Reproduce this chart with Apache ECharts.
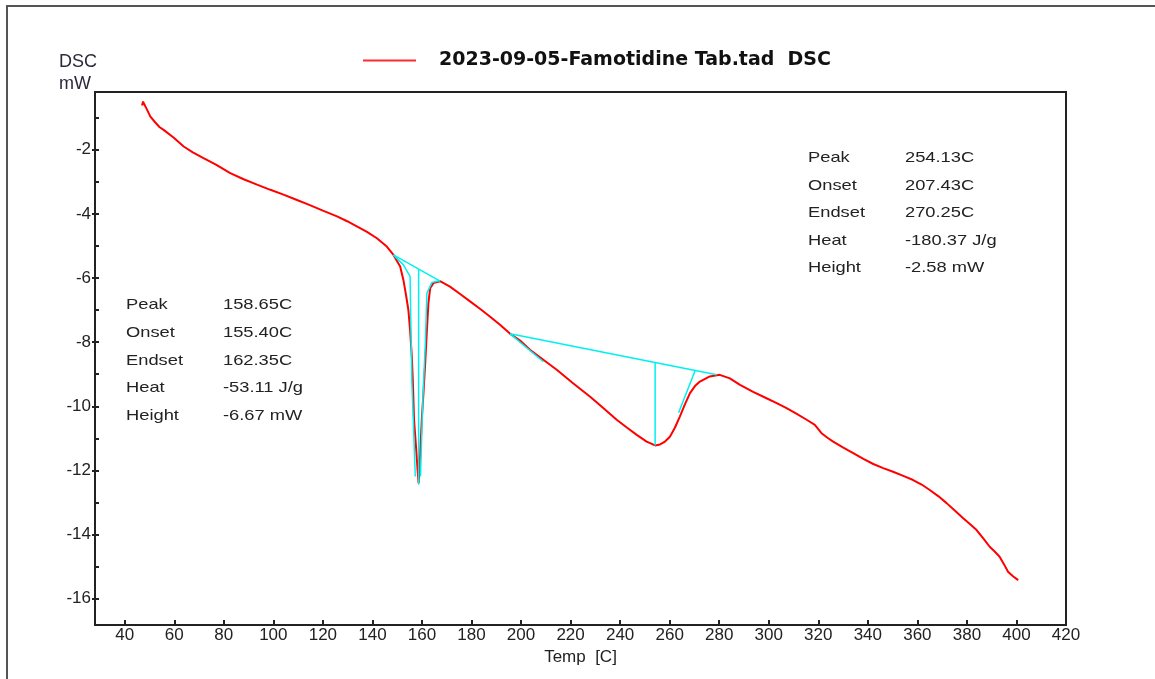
<!DOCTYPE html>
<html>
<head>
<meta charset="utf-8">
<title>DSC – Famotidine Tab.</title>
<script src="https://cdn.jsdelivr.net/npm/echarts@6/dist/echarts.min.js"></script>
<style>
  html, body { margin: 0; padding: 0; background: #fff; }
  #chart { width: 1155px; height: 679px; }
</style>
</head>
<body>
<div id="chart"></div>
<script>
// DSC heat-flow trace: temperature (°C) and signal (mW)
const tempC = [
  47.0, 47.4, 48.0, 49.0, 50.3, 52.0, 54.0, 55.7, 59.7, 63.8,
  67.5, 71.8, 77.0, 82.6, 88.0, 93.4, 98.8, 104.1, 109.3, 114.5,
  120.0, 125.7, 129.8, 133.7, 137.8, 141.8, 145.8, 148.5, 151.2, 152.5,
  153.6, 154.5, 155.2, 155.9, 156.3, 156.8, 157.6, 158.2, 158.65, 159.0,
  159.4, 160.0, 160.6, 161.3, 162.0, 162.6, 163.3, 164.6, 167.3, 171.3,
  175.4, 179.4, 183.4, 187.4, 191.5, 195.6, 199.6, 203.6, 209.0, 214.4,
  221.0, 227.9, 233.3, 238.6, 242.7, 246.7, 250.7, 254.13, 256.1, 258.1,
  260.1, 262.1, 264.1, 266.1, 268.2, 270.2, 272.2, 276.2, 280.2, 284.3,
  288.4, 293.7, 299.1, 303.2, 307.2, 311.3, 315.3, 318.6, 321.3, 323.7,
  326.0, 330.1, 334.1, 338.2, 342.2, 346.2, 350.2, 354.3, 358.3, 361.7,
  365.0, 368.4, 371.8, 375.2, 378.5, 381.2, 383.9, 386.6, 389.2, 391.2,
  393.2, 395.0, 396.6, 398.6, 400.7
];
const dscMW = [
  -0.62, -0.50, -0.60, -0.75, -0.96, -1.12, -1.29, -1.38, -1.62, -1.90,
  -2.08, -2.26, -2.47, -2.73, -2.92, -3.09, -3.25, -3.40, -3.56, -3.72,
  -3.90, -4.08, -4.23, -4.39, -4.56, -4.76, -5.02, -5.28, -5.64, -6.06,
  -6.55, -6.99, -7.62, -8.45, -9.18, -10.42, -11.26, -11.95, -12.40, -11.95,
  -11.26, -10.32, -9.59, -8.66, -7.62, -6.78, -6.32, -6.16, -6.10, -6.27,
  -6.50, -6.73, -6.96, -7.20, -7.46, -7.74, -7.95, -8.24, -8.55, -8.86,
  -9.28, -9.70, -10.06, -10.42, -10.66, -10.89, -11.10, -11.22, -11.19, -11.10,
  -10.95, -10.67, -10.32, -9.95, -9.59, -9.37, -9.23, -9.07, -9.02, -9.13,
  -9.33, -9.55, -9.75, -9.90, -10.06, -10.24, -10.42, -10.58, -10.84, -10.98,
  -11.10, -11.29, -11.46, -11.64, -11.80, -11.93, -12.04, -12.17, -12.30, -12.44,
  -12.61, -12.80, -13.02, -13.26, -13.49, -13.67, -13.86, -14.12, -14.38, -14.53,
  -14.69, -14.93, -15.16, -15.30, -15.42
];

// Peak integration construction lines ([°C, mW] pairs)
const peak1Baseline = [[148.5, -5.28], [167.3, -6.10]];
const peak1LeftEdge = [[148.5, -5.28], [152.5, -5.59], [155.2, -5.95], [155.9, -9.18], [157.3, -12.19]];
const peak1RightEdge = [[159.4, -12.19], [160.4, -9.70], [161.3, -8.14], [162.0, -6.47], [164.0, -6.14], [167.3, -6.08]];
const peak1Drop = [[158.65, -5.73], [158.65, -12.45]];
const peak2Baseline = [[195.6, -7.74], [279.0, -9.02]];
const peak2OnsetTangent = [[195.6, -7.74], [209.0, -8.61]];
const peak2EndsetTangent = [[263.6, -10.20], [270.25, -8.89]];
const peak2Drop = [[254.13, -8.64], [254.13, -11.22]];

// Peak evaluation tables
const peak1Labels = ['Peak', 'Onset', 'Endset', 'Heat', 'Height'];
const peak1Values = ['158.65C', '155.40C', '162.35C', '-53.11 J/g', '-6.67 mW'];
const peak2Labels = ['Peak', 'Onset', 'Endset', 'Heat', 'Height'];
const peak2Values = ['254.13C', '207.43C', '270.25C', '-180.37 J/g', '-2.58 mW'];

// Axis ticks
const xTicks = [40, 60, 80, 100, 120, 140, 160, 180, 200, 220, 240, 260, 280, 300, 320, 340, 360, 380, 400, 420];
const yTicksMajor = [-2, -4, -6, -8, -10, -12, -14, -16];
const yTicksAll = [-1, -2, -3, -4, -5, -6, -7, -8, -9, -10, -11, -12, -13, -14, -15, -16];

const seriesName = '2023-09-05-Famotidine Tab.tad  DSC';
const curve = tempC.map((t, i) => [t, dscMW[i]]);

const FONT = '"Liberation Sans", Arial, sans-serif';
const TEXT = '#222';
const CYAN = '#00f0f0';

const chart = echarts.init(document.getElementById('chart'), null, { renderer: 'canvas' });

function cyanLine(data) {
  return {
    type: 'line', data: data, symbol: 'none', silent: true, z: 4,
    lineStyle: { color: CYAN, width: 1.5 }, animation: false
  };
}

function tableText(labels, values, left, valueLeft, top, step) {
  const els = [];
  labels.forEach((lab, i) => {
    els.push({ type: 'text', x: left, y: top + i * step, scaleX: 1.22,
      style: { text: lab, x: 0, y: 0, font: '15px ' + FONT, fill: TEXT, textVerticalAlign: 'middle', verticalAlign: 'middle' } });
    els.push({ type: 'text', x: valueLeft, y: top + i * step, scaleX: 1.22,
      style: { text: values[i], x: 0, y: 0, font: '15px ' + FONT, fill: TEXT, textVerticalAlign: 'middle', verticalAlign: 'middle' } });
  });
  return els;
}

const option = {
  backgroundColor: '#ffffff',
  animation: false,
  grid: { left: 95, right: 89, top: 92, bottom: 54, show: true, borderColor: '#222', borderWidth: 2, backgroundColor: 'transparent' },
  legend: {
    data: [seriesName], left: 358, top: 46, icon: 'rect', itemWidth: 53, itemHeight: 2,
    textStyle: { fontFamily: '"DejaVu Sans", Verdana, sans-serif', fontWeight: 'bold', fontSize: 19, color: '#111', padding: [0, 0, 0, 18] }
  },
  xAxis: {
    type: 'value', min: 28, max: 420,
    name: 'Temp  [C]', nameLocation: 'middle', nameGap: 24,
    nameTextStyle: { fontFamily: FONT, fontSize: 17, color: TEXT },
    axisLine: { show: true, lineStyle: { color: '#222', width: 2 } },
    axisTick: { show: true, inside: true, length: 5, customValues: xTicks, lineStyle: { color: '#222', width: 2 } },
    axisLabel: { customValues: xTicks, fontFamily: FONT, fontSize: 17, color: TEXT, margin: 2 },
    splitLine: { show: false }
  },
  yAxis: [{
    type: 'value', min: -16.82, max: -0.2,
    axisLine: { show: true, lineStyle: { color: '#222', width: 2 } },
    axisTick: { show: true, inside: true, length: 4, customValues: yTicksAll, lineStyle: { color: '#222', width: 2 } },
    axisLabel: { customValues: yTicksMajor, fontFamily: FONT, fontSize: 17, color: TEXT, margin: 4 },
    splitLine: { show: false }
  }, {
    type: 'value', min: -16.82, max: -0.2, position: 'left',
    axisLine: { show: false },
    axisTick: { show: true, inside: false, length: 3, customValues: yTicksMajor, lineStyle: { color: '#222', width: 2 } },
    axisLabel: { show: false },
    splitLine: { show: false }
  }],
  series: [
    {
      name: seriesName, type: 'line', data: curve, symbol: 'none', z: 3,
      lineStyle: { color: '#ff0000', width: 2 }, itemStyle: { color: '#ff2a2a' }
    },
    cyanLine(peak1Baseline),
    cyanLine(peak1LeftEdge),
    cyanLine(peak1RightEdge),
    cyanLine(peak1Drop),
    cyanLine(peak2Baseline),
    cyanLine(peak2OnsetTangent),
    cyanLine(peak2EndsetTangent),
    cyanLine(peak2Drop)
  ],
  graphic: [
    // outer frame of the plot window
    { type: 'rect', shape: { x: 7, y: 6, width: 1300, height: 800 }, style: { fill: 'none', stroke: '#555', lineWidth: 2 }, silent: true },
    { type: 'text', x: 59, y: 62, style: { text: 'DSC', font: '18px ' + FONT, fill: '#2a2a3a', textVerticalAlign: 'middle', verticalAlign: 'middle' } },
    { type: 'text', x: 59, y: 84, style: { text: 'mW', font: '18px ' + FONT, fill: '#2a2a3a', textVerticalAlign: 'middle', verticalAlign: 'middle' } }
  ]
    .concat(tableText(peak1Labels, peak1Values, 126, 223, 305, 27.7))
    .concat(tableText(peak2Labels, peak2Values, 808, 905, 158, 27.5))
};

chart.setOption(option);
</script>
</body>
</html>
